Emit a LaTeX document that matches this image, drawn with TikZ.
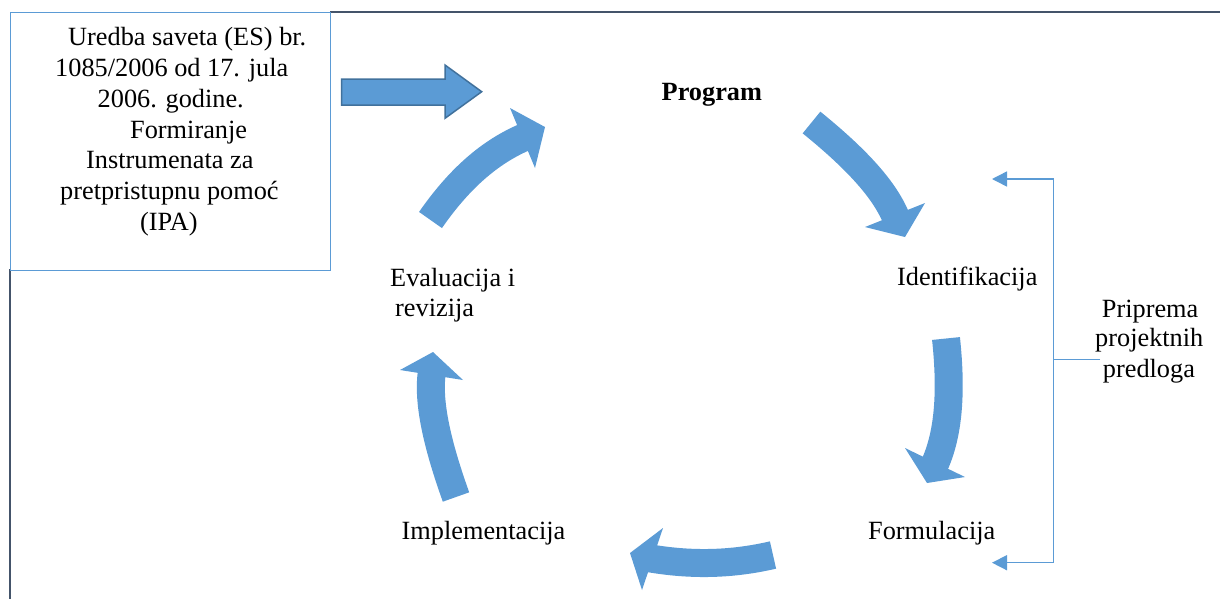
\documentclass[tikz,border=0pt]{standalone}
\usepackage{fontspec}
\setmainfont{Liberation Serif}
\usetikzlibrary{arrows.meta}
\definecolor{accent}{HTML}{5B9BD5}
\definecolor{accentdark}{HTML}{41719C}
\definecolor{framec}{HTML}{44546A}
\tikzset{
  lbl/.style={inner sep=0pt, anchor=base west, font=\fontsize{26.3}{30.7}\selectfont},
  shaft/.style={draw=accent, line width=28pt, line cap=butt},
  headtri/.style={fill=accent},
  bracketline/.style={draw=accent, line width=1.5pt},
}
\begin{document}
\begin{tikzpicture}[x=1pt,y=-1pt]
\useasboundingbox (0,0) rectangle (1220,598);
% frame
\draw[framec, line width=2pt] (330,11.5) -- (1221,11.5);
\draw[framec, line width=2pt] (9.5,269) -- (9.5,599);
% source box
\node[draw=accent, line width=1.2pt, fill=white, minimum width=320pt, minimum height=258pt, inner sep=0pt, anchor=north west] (box) at (10,12) {};
\node[lbl] (l1) at (68,45.7) {Uredba saveta (ES) br.};
\node[lbl] (l2) at (55,76.7) {1085/2006 od 17. jula};
\node[lbl] (l3) at (97.5,107.3) {2006. godine.};
\node[lbl] (l4) at (130,138.3) {Formiranje};
\node[lbl] (l5) at (86,168.5) {Instrumenata za};
\node[lbl] (l6) at (60,199.3) {pretpristupnu pomoć};
\node[lbl] (l7) at (140,230) {(IPA)};
% block arrow
\coordinate (ba) at (341.7,79);
\draw[fill=accent, draw=accentdark, line width=1.5pt, line join=miter]
  (ba) -- (445,79) -- (445,65) -- (481.7,91.7) -- (445,118.3) -- (445,105) -- (341.7,105) -- cycle;
% cycle labels
\node[lbl, font=\fontsize{26.3}{30.7}\selectfont\bfseries] (prog) at (661.5,100) {Program};
\node[lbl] (ident) at (897,285) {Identifikacija};
\node[lbl] (form) at (868,539) {Formulacija};
\node[lbl] (impl) at (401.5,539.3) {Implementacija};
\node[lbl] (eval1) at (390,286) {Evaluacija i};
\node[lbl] (eval2) at (395,316.7) {revizija};
% curved arrows
% 1: Program -> Identifikacija
\coordinate (t1) at (811.5,122.5);
\coordinate (h1) at (896.5,219);
\draw[shaft] (t1) .. controls (857.4,159.7) and (885.3,190.5) .. (h1);
\fill[headtri] (865,227) -- (905,237) -- (925,203) -- cycle;
% 2: Identifikacija -> Formulacija
\coordinate (t2) at (946,338.5);
\coordinate (h2) at (934,466);
\draw[shaft] (t2) .. controls (951.9,393.8) and (948.3,435.2) .. (h2);
\fill[headtri] (905,448) -- (927,483) -- (965,477) -- cycle;
% 3: Formulacija -> Implementacija
\coordinate (t3) at (773,555);
\coordinate (h3) at (649,558.2);
\draw[shaft] (t3) .. controls (733,564.3) and (692.8,565.7) .. (h3);
\fill[headtri] (663,528) -- (630,553) -- (642,590) -- cycle;
% 4: Implementacija -> Evaluacija
\coordinate (t4) at (456,497);
\coordinate (h4) at (432,371);
\draw[shaft] (t4) .. controls (435.7,440.3) and (427.6,399.7) .. (h4);
\fill[headtri] (400,370) -- (433,352) -- (463,380) -- cycle;
% 5: Evaluacija -> Program
\coordinate (t5) at (430.5,220);
\coordinate (h5) at (526,136.5);
\draw[shaft] (t5) .. controls (459,179) and (489.7,151.7) .. (h5);
\fill[headtri] (510,108) -- (545,127) -- (535,168) -- cycle;
% bracket
\coordinate (jn) at (1053.3,359.3);
\coordinate (bm) at (1100,359.3);
\coordinate (bt) at (992,179);
\coordinate (bb) at (992,562.7);
\draw[bracketline] (bm) -- (jn);
\draw[bracketline, -{Triangle[length=15pt,width=15pt]}] (jn) |- (bt);
\draw[bracketline, -{Triangle[length=15pt,width=15pt]}] (jn) |- (bb);
\node[lbl] (p1) at (1101.7,317) {Priprema};
\node[lbl] (p2) at (1095,346.7) {projektnih};
\node[lbl] (p3) at (1102.7,377) {predloga};
\end{tikzpicture}
\end{document}
